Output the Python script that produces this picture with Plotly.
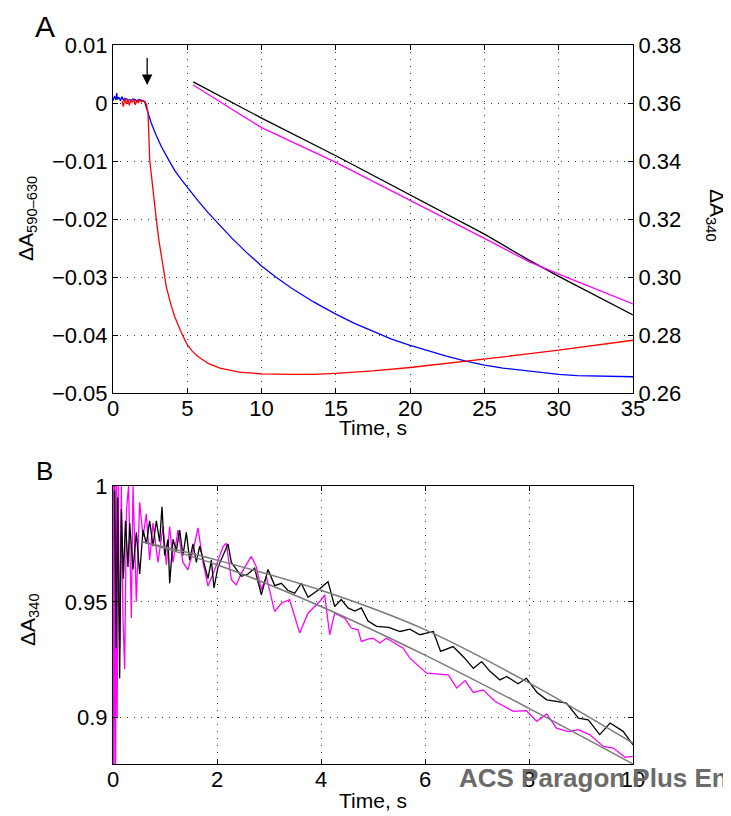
import plotly.graph_objects as go

# ---------------- Panel A data ----------------
blue_t = [0, 0.1, 0.2, 0.25, 0.3, 0.4, 0.5, 0.6, 0.7, 0.8, 1.0, 1.2, 1.4, 1.6, 1.8, 2.0, 2.13, 2.3,
          2.58, 2.9, 3.25, 3.7, 4.15, 4.6, 5.05, 5.7, 6.4, 7.2, 8.0, 9.0, 10.0, 11.0, 12.0, 13.5,
          15.0, 16.25, 17.5, 18.75, 20.0, 21.25, 22.5, 23.75, 25.0, 26.25, 27.5, 28.75, 30.0,
          31.25, 32.5, 33.75, 35.0]
blue_v = [0.0004, 0.0012, 0.0005, 0.0017, 0.0006, 0.0010, 0.0004, 0.0011, 0.0005, 0.0008, 0.0006,
          0.0005, 0.0007, 0.0004, 0.0006, 0.0004, 0.0002, -0.0012, -0.0035, -0.0055, -0.0075,
          -0.0096, -0.0116, -0.0132, -0.0147, -0.0168, -0.0189, -0.0211, -0.0233, -0.0258,
          -0.0281, -0.0301, -0.0319, -0.0343, -0.0364, -0.0380, -0.0394, -0.0407, -0.0418,
          -0.0428, -0.0437, -0.0445, -0.0452, -0.0457, -0.0461, -0.0465, -0.0468, -0.0470,
          -0.0471, -0.0472, -0.0472]

red_t = [0.6, 0.7, 0.8, 0.9, 1.0, 1.1, 1.2, 1.3, 1.4, 1.5, 1.6, 1.7, 1.8, 1.9, 2.0, 2.13, 2.25,
         2.36, 2.47, 2.58, 2.69, 2.8, 2.92, 3.08, 3.25, 3.42, 3.59, 3.87, 4.15, 4.55, 4.94, 5.3,
         5.72, 6.4, 7.2, 8.5, 10, 12, 13.5, 15, 17.5, 20, 22.5, 25, 27.5, 30, 32.5, 35]
red_v = [0.0003, -0.0006, 0.0008, -0.0002, 0.0006, -0.0004, 0.0005, 0.0001, 0.0007, -0.0003,
         0.0004, 0.0, 0.0006, 0.0002, 0.0004, 0.0003, -0.0002, -0.0018, -0.0098, -0.0125,
         -0.0150, -0.0176, -0.0202, -0.0235, -0.0265, -0.0292, -0.0317, -0.0345, -0.0368,
         -0.0393, -0.0414, -0.0427, -0.0437, -0.0449, -0.0457, -0.0464, -0.0467, -0.0468,
         -0.0468, -0.0466, -0.0462, -0.0456, -0.0449, -0.0442, -0.0434, -0.0426, -0.0418,
         -0.0409]

black_a_t = [5.4, 10, 15, 20, 25, 28, 30, 35]
black_a_v = [0.3673, 0.3548, 0.3418, 0.3284, 0.3148, 0.3058, 0.3002, 0.2869]

mag_a_t = [5.4, 10, 15, 20, 25, 28, 30, 35]
mag_a_v = [0.3662, 0.3515, 0.3395, 0.3265, 0.3133, 0.3053, 0.3010, 0.2907]

# ---------------- Panel B data ----------------
black_b_t = [0.03, 0.06, 0.09, 0.128, 0.16, 0.2, 0.24, 0.288, 0.321, 0.385, 0.449, 0.513, 0.577,
             0.641, 0.705, 0.769, 0.833, 0.897, 0.942, 0.994, 1.058, 1.09, 1.154, 1.218, 1.282,
             1.346, 1.41, 1.474, 1.538, 1.603, 1.667, 1.763, 1.827, 1.891, 1.942, 2.019, 2.115,
             2.212, 2.276, 2.34, 2.47, 2.596, 2.724, 2.853, 2.981, 3.11, 3.237, 3.36, 3.494,
             3.62, 3.75, 3.942, 4.135, 4.263, 4.39, 4.52, 4.65, 4.776, 4.904, 5.07, 5.3, 5.52,
             5.71, 5.9, 6.16, 6.3, 6.54, 6.75, 6.93, 7.09, 7.25, 7.44, 7.57, 7.79, 7.95, 8.15,
             8.34, 8.53, 8.72, 8.95, 9.14, 9.36, 9.56, 9.81, 10.0]
black_b_v = [0.998, 0.93, 0.995, 0.917, 0.99, 0.96, 0.985, 0.965, 0.984, 0.964, 0.980, 0.962,
             0.981, 0.975, 0.985, 0.974, 0.985, 0.976, 0.991, 0.970, 0.977, 0.958, 0.977, 0.972,
             0.981, 0.970, 0.980, 0.968, 0.975, 0.967, 0.974, 0.965, 0.960, 0.968, 0.956, 0.965,
             0.970, 0.975, 0.967, 0.965, 0.961, 0.962, 0.9645, 0.953, 0.964, 0.957, 0.958, 0.955,
             0.9537, 0.958, 0.952, 0.955, 0.9587, 0.948, 0.951, 0.9474, 0.946, 0.9474, 0.9417,
             0.9394, 0.939, 0.9372, 0.9382, 0.9358, 0.9372, 0.9286, 0.9307, 0.926, 0.9213,
             0.9242, 0.920, 0.9163, 0.9178, 0.9146, 0.917, 0.911, 0.9077, 0.907, 0.9063, 0.8998,
             0.8991, 0.8927, 0.8977, 0.8941, 0.8883]

mag_b_t = [0.0, 0.01, 0.02, 0.035, 0.05, 0.065, 0.08, 0.1, 0.13, 0.16, 0.19, 0.224, 0.26, 0.3,
           0.353, 0.385, 0.449, 0.513, 0.577, 0.641, 0.705, 0.769, 0.865, 0.962, 1.026, 1.09,
           1.154, 1.25, 1.346, 1.442, 1.538, 1.635, 1.731, 1.827, 1.955, 2.115, 2.179, 2.276,
           2.372, 2.468, 2.66, 2.756, 2.853, 2.949, 3.109, 3.237, 3.397, 3.59, 3.75, 3.878,
           4.006, 4.071, 4.167, 4.263, 4.455, 4.583, 4.712, 4.776, 4.904, 5.0, 5.13, 5.26, 5.58,
           5.71, 6.03, 6.45, 6.61, 6.77, 6.93, 7.12, 7.35, 7.7, 7.95, 8.15, 8.34, 8.53, 8.76,
           8.95, 9.17, 9.43, 9.62, 9.85, 10.0]
mag_b_v = [0.88, 1.0, 0.88, 1.0, 0.88, 1.0, 0.90, 1.0, 0.93, 1.0, 0.945, 0.921, 0.99, 1.0, 0.943,
           1.0, 0.95, 0.993, 0.978, 0.988, 0.968, 0.984, 0.967, 0.9825, 0.966, 0.9825, 0.967,
           0.981, 0.967, 0.9638, 0.972, 0.9819, 0.967, 0.9568, 0.9638, 0.9738, 0.9753, 0.9595,
           0.9573, 0.9624, 0.9696, 0.9652, 0.9552, 0.9609, 0.9458, 0.9494, 0.9509, 0.9366,
           0.9451, 0.948, 0.9509, 0.953, 0.9358, 0.9451, 0.943, 0.9387, 0.9379, 0.9329, 0.9339,
           0.9343, 0.9322, 0.9343, 0.930, 0.9257, 0.9192, 0.9185, 0.9128, 0.916, 0.9109, 0.912,
           0.907, 0.9027, 0.903, 0.8984, 0.9016, 0.8955, 0.894, 0.8948, 0.8926, 0.8876, 0.8869,
           0.8829, 0.8833]

fit1_t = [0.55, 2, 4, 6, 8, 10]
fit1_v = [0.976, 0.968, 0.955, 0.938, 0.915, 0.889]
fit2_t = [0.55, 2, 4, 6, 8, 10]
fit2_v = [0.976, 0.966, 0.948, 0.927, 0.904, 0.880]

a_xticks = [0, 5, 10, 15, 20, 25, 30, 35]
b_xticks = [0, 2, 4, 6, 8, 10]

# ---------------- Figure ----------------
# the page body has an 8px margin; the figure starts at (8, 8) in the window
OFF = 8
W, H = 731 - OFF, 816 - OFF
FONT = "Liberation Sans, Arial, sans-serif"
LW = 1.3
FS = 22

def fx(xr):  # window pixel -> paper x
    return (xr - OFF) / W

def fy(yr):  # window pixel -> paper y
    return 1 - (yr - OFF) / H

fig = go.Figure()
fig.add_trace(go.Scatter(x=blue_t, y=blue_v, mode="lines", line=dict(color="#0000ff", width=LW),
                         xaxis="x", yaxis="y"))
fig.add_trace(go.Scatter(x=red_t, y=red_v, mode="lines", line=dict(color="#ff0000", width=LW),
                         xaxis="x", yaxis="y"))
fig.add_trace(go.Scatter(x=black_a_t, y=black_a_v, mode="lines", line=dict(color="#000000", width=LW),
                         xaxis="x", yaxis="y2"))
fig.add_trace(go.Scatter(x=mag_a_t, y=mag_a_v, mode="lines", line=dict(color="#ff00ff", width=LW),
                         xaxis="x", yaxis="y2"))

fig.add_trace(go.Scatter(x=mag_b_t, y=mag_b_v, mode="lines", line=dict(color="#ff00ff", width=LW),
                         xaxis="x2", yaxis="y3"))
fig.add_trace(go.Scatter(x=black_b_t, y=black_b_v, mode="lines", line=dict(color="#000000", width=LW),
                         xaxis="x2", yaxis="y3"))
fig.add_trace(go.Scatter(x=fit1_t, y=fit1_v, mode="lines", line=dict(color="#7a7a7a", width=1.5, shape="spline"),
                         xaxis="x2", yaxis="y3"))
fig.add_trace(go.Scatter(x=fit2_t, y=fit2_v, mode="lines", line=dict(color="#7a7a7a", width=1.5, shape="spline"),
                         xaxis="x2", yaxis="y3"))

grid = dict(showgrid=True, gridcolor="#333333", gridwidth=1, griddash="1px,6px")
axcommon = dict(showline=True, linecolor="#000000", linewidth=1, ticks="inside", ticklen=5,
                tickcolor="#000000", tickfont=dict(family=FONT, size=FS, color="#000000"),
                zeroline=False, automargin=False)

fig.update_layout(
    template="none",
    width=W, height=H, margin=dict(l=0, r=0, t=0, b=0, pad=0),
    paper_bgcolor="white", plot_bgcolor="white", showlegend=False,
    font=dict(family=FONT, color="#000000"),
    xaxis=dict(domain=[fx(113), fx(633)], anchor="y", range=[0, 35], tickvals=a_xticks,
               mirror="ticks", ticklabelstandoff=-4, **grid, **axcommon),
    yaxis=dict(domain=[fy(393), fy(45)], anchor="x", range=[-0.05, 0.01], dtick=0.01,
               mirror=True, **grid, **axcommon),
    yaxis2=dict(overlaying="y", side="right", anchor="x", range=[0.26, 0.38], dtick=0.02,
                tickformat=".2f", showgrid=False, **axcommon),
    xaxis2=dict(domain=[fx(113), fx(633)], anchor="y3", range=[0, 10], tickvals=b_xticks,
                mirror="ticks", ticklabelstandoff=-4, **grid, **axcommon),
    yaxis3=dict(domain=[fy(764), fy(486)], anchor="x2", range=[0.88, 1.0], tickvals=[0.9, 0.95, 1.0],
                ticktext=["0.9", "0.95", "1"], mirror="ticks", **grid, **axcommon),
)

ann = []
def add_text(text, xr, yr, size, angle=0, color="#000000", xanchor="center"):
    ann.append(dict(text=text, x=fx(xr), y=fy(yr), xref="paper", yref="paper", showarrow=False,
                    textangle=angle, xanchor=xanchor, yanchor="middle",
                    font=dict(family=FONT, size=size, color=color)))

add_text("A", 45, 26, 30)
add_text("B", 44, 471, 26)
add_text("ΔA<sub>590–630</sub>", 27, 219, FS - 1, angle=-90)
add_text("ΔA<sub>340</sub>", 716, 215, FS - 1, angle=90)
add_text("Time, s", 373, 427, FS - 1)
add_text("ΔA<sub>340</sub>", 29, 620, FS - 1, angle=-90)
add_text("Time, s", 373, 800, FS - 1)
add_text("<b>ACS Paragon Plus En</b>", 457, 778, 26, color="#6b6b6b", xanchor="left")

# arrow marking the injection time
ann.append(dict(x=2.3, y=0.0031, xref="x", yref="y", ax=2.3, ay=0.0080, axref="x", ayref="y",
                text="", showarrow=True, arrowhead=2, arrowsize=1.6, arrowwidth=1.3,
                arrowcolor="#000000"))

fig.update_layout(annotations=ann)
fig.write_html("out.html")
